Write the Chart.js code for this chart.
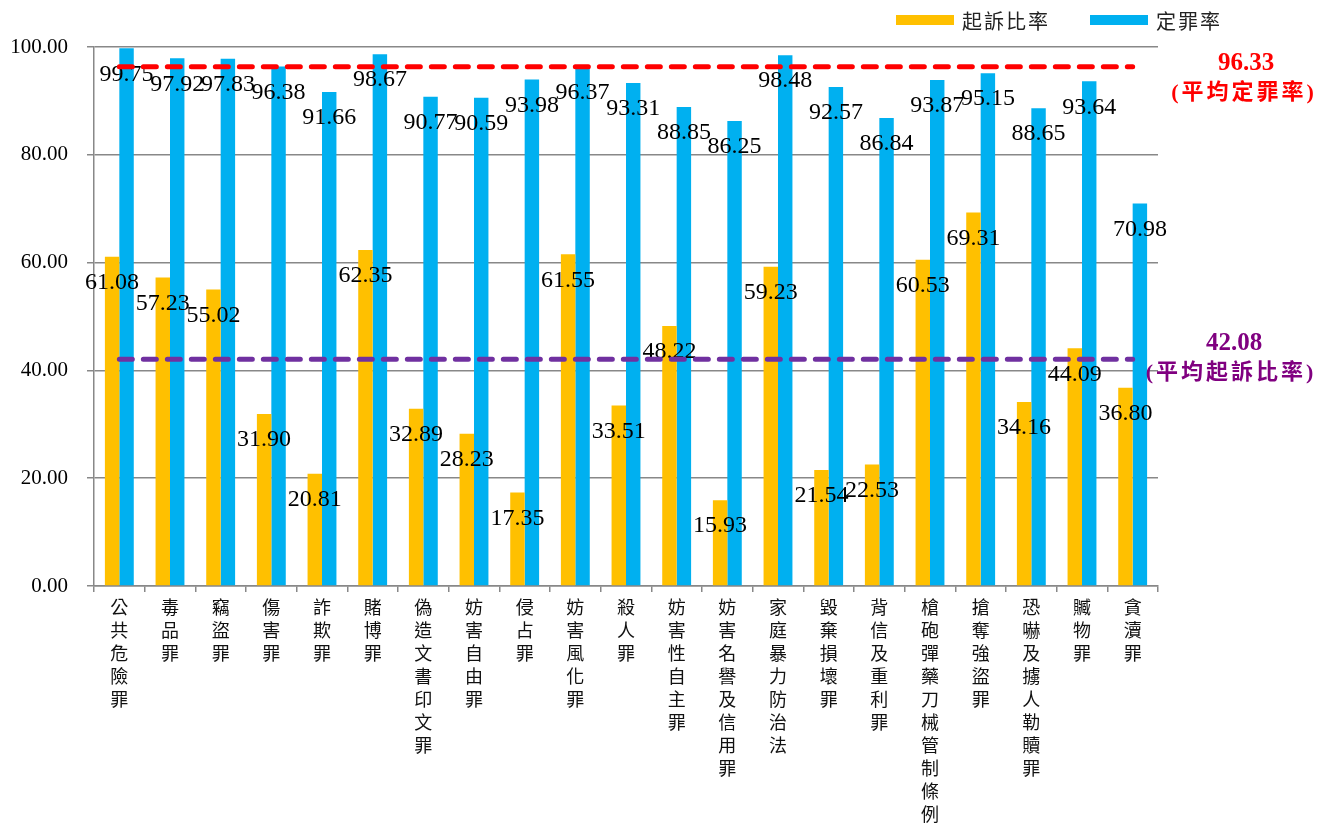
<!DOCTYPE html>
<html>
<head>
<meta charset="utf-8">
<script src="https://cdn.jsdelivr.net/npm/chart.js@4.4.0/dist/chart.umd.min.js"></script>
<style>
  html, body { margin: 0; padding: 0; background: #fff; }
  #wrap { width: 1331px; height: 825px; position: relative; }
</style>
</head>
<body>
<div id="wrap"><canvas id="rateChart"></canvas></div>
<script>
// data
const categories = ['公共危險罪', '毒品罪', '竊盜罪', '傷害罪', '詐欺罪', '賭博罪', '偽造文書印文罪',
    '妨害自由罪', '侵占罪', '妨害風化罪', '殺人罪', '妨害性自主罪', '妨害名譽及信用罪', '家庭暴力防治法',
    '毀棄損壞罪', '背信及重利罪', '槍砲彈藥刀械管制條例', '搶奪強盜罪', '恐嚇及擄人勒贖罪', '贓物罪', '貪瀆罪'];
const prosecutionRate = [61.08, 57.23, 55.02, 31.90, 20.81, 62.35, 32.89, 28.23, 17.35, 61.55, 33.51,
    48.22, 15.93, 59.23, 21.54, 22.53, 60.53, 69.31, 34.16, 44.09, 36.80];
const convictionRate = [99.75, 97.92, 97.83, 96.38, 91.66, 98.67, 90.77, 90.59, 93.98, 96.37, 93.31,
    88.85, 86.25, 98.48, 92.57, 86.84, 93.87, 95.15, 88.65, 93.64, 70.98];
const avgProsecution = 42.08;
const avgConviction = 96.33;
const yTicks = [0, 20, 40, 60, 80, 100];

const serif = '"Liberation Serif", "Times New Roman", serif';
const cjk = '"Noto Sans CJK TC", "Noto Sans CJK SC", sans-serif';
const gridColor = '#888888';

const extrasPlugin = {
    id: 'extras',
    afterDatasetsDraw(chart) {
        const ctx = chart.ctx;
        const xs = chart.scales.x;
        const ys = chart.scales.y;
        ctx.save();
        // value labels
        ctx.font = '24px ' + serif;
        ctx.fillStyle = '#000';
        ctx.textAlign = 'center';
        ctx.textBaseline = 'middle';
        chart.data.datasets.forEach(function (ds, di) {
            chart.getDatasetMeta(di).data.forEach(function (bar, i) {
                ctx.fillText(ds.data[i].toFixed(2), bar.x, bar.y + 26);
            });
        });
        // average lines
        const x0 = xs.getPixelForValue(0);
        const x1 = xs.getPixelForValue(categories.length - 1);
        [[avgConviction, '#FF0000'], [avgProsecution, '#7030A0']].forEach(function (a) {
            const yy = ys.getPixelForValue(a[0]);
            ctx.beginPath();
            ctx.setLineDash([13, 11]);
            ctx.lineCap = 'round';
            ctx.lineWidth = 5;
            ctx.strokeStyle = a[1];
            ctx.moveTo(x0, yy);
            ctx.lineTo(x1, yy);
            ctx.stroke();
        });
        ctx.restore();
    },
    afterDraw(chart) {
        const ctx = chart.ctx;
        const ys = chart.scales.y;
        ctx.save();
        // legend
        ctx.font = '20px ' + cjk;
        ctx.letterSpacing = '2px';
        ctx.textBaseline = 'middle';
        ctx.textAlign = 'left';
        let right = 1222;
        const dsets = chart.data.datasets.slice().reverse();
        dsets.forEach(function (ds) {
            const w = ctx.measureText(ds.label).width;
            const tx = right - w;
            const bx = tx - 8 - 58;
            ctx.fillStyle = ds.backgroundColor;
            ctx.fillRect(bx, 15, 58, 10);
            ctx.fillStyle = '#222';
            ctx.fillText(ds.label, tx, 21);
            right = bx - 40;
        });
        // average notes
        ctx.textAlign = 'center';
        ctx.letterSpacing = '0px';
        ctx.fillStyle = '#FF0000';
        ctx.font = 'bold 25px ' + serif;
        ctx.fillText(avgConviction.toFixed(2), 1246, ys.getPixelForValue(avgConviction) - 3);
        ctx.font = 'bold 22px ' + serif + ', ' + cjk;
        ctx.letterSpacing = '3px';
        ctx.fillText('(平均定罪率)', 1244, ys.getPixelForValue(avgConviction) + 27);
        ctx.fillStyle = '#800080';
        ctx.letterSpacing = '0px';
        ctx.font = 'bold 25px ' + serif;
        ctx.fillText(avgProsecution.toFixed(2), 1234, ys.getPixelForValue(avgProsecution) - 16);
        ctx.font = 'bold 22px ' + serif + ', ' + cjk;
        ctx.letterSpacing = '3px';
        ctx.fillText('(平均起訴比率)', 1231, ys.getPixelForValue(avgProsecution) + 14);
        ctx.restore();
    }
};

document.addEventListener('DOMContentLoaded', function () {
    const canvas = document.getElementById('rateChart');
    const ctx = canvas.getContext('2d');
    new Chart(ctx, {
        type: 'bar',
        data: {
            labels: categories.map(function (c) { return c.split(''); }),
            datasets: [{
                label: '起訴比率',
                data: prosecutionRate,
                backgroundColor: '#FFC000',
                barPercentage: 1,
                categoryPercentage: 0.57
            }, {
                label: '定罪率',
                data: convictionRate,
                backgroundColor: '#00B0F0',
                barPercentage: 1,
                categoryPercentage: 0.57
            }]
        },
        options: {
            responsive: true,
            maintainAspectRatio: false,
            animation: false,
            layout: { padding: { top: 47, left: 0, right: 0, bottom: 0 } },
            plugins: {
                legend: { display: false },
                tooltip: { enabled: false }
            },
            scales: {
                x: {
                    grid: {
                        display: true,
                        drawOnChartArea: false,
                        drawTicks: true,
                        tickLength: 6,
                        color: gridColor,
                        lineWidth: 1.5
                    },
                    border: { display: true, color: gridColor, width: 1.5 },
                    ticks: {
                        autoSkip: false,
                        maxRotation: 0,
                        minRotation: 0,
                        padding: 4,
                        color: '#111',
                        font: { family: cjk, size: 18, lineHeight: '23px' }
                    },
                    afterFit: function (scale) { scale.height = 239; }
                },
                y: {
                    min: 0,
                    max: 100,
                    afterBuildTicks: function (scale) {
                        scale.ticks = yTicks.map(function (v) { return { value: v }; });
                    },
                    grid: { color: gridColor, lineWidth: 1.5, tickLength: 7 },
                    border: { display: true, color: gridColor, width: 1.5 },
                    ticks: {
                        padding: 19,
                        color: '#000',
                        font: { family: serif, size: 21 },
                        callback: function (v) { return Number(v).toFixed(2); }
                    },
                    afterFit: function (scale) { scale.width = 94; }
                },
                side: {
                    type: 'linear',
                    position: 'right',
                    display: true,
                    grid: { display: false },
                    border: { display: false },
                    ticks: { display: false },
                    afterFit: function (scale) { scale.width = 173; }
                }
            }
        },
        plugins: [extrasPlugin]
    });
});
</script>
</body>
</html>
